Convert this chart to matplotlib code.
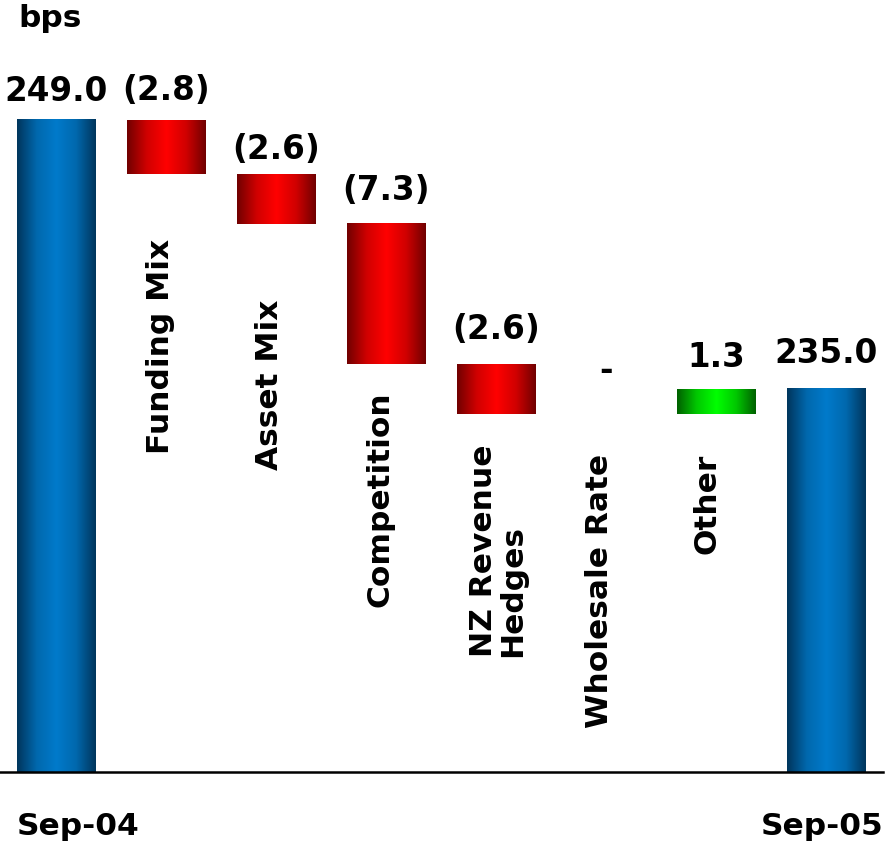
import numpy as np
import matplotlib
matplotlib.use("Agg")
import matplotlib.pyplot as plt
from matplotlib.colors import LinearSegmentedColormap

# ---- data ----
start_label = "Sep-04"
end_label = "Sep-05"
start_value = 249.0
end_value = 235.0
categories = ["Funding Mix", "Asset Mix", "Competition", "NZ Revenue\nHedges",
              "Wholesale Rate", "Other"]
deltas = [-2.8, -2.6, -7.3, -2.6, 0.0, 1.3]
value_labels = ["249.0", "(2.8)", "(2.6)", "(7.3)", "(2.6)", "-", "1.3", "235.0"]
unit_label = "bps"

# ---- layout / style ----
FONT = "DejaVu Sans"
FS = 22.5
FS_VAL = 23.5
YMIN, YMAX = 215.07, 255.29
label_gap_px = [20, 21, 16, 25, 26, 35, 23, 27]      # value label baseline above bar top
cat_label_top = [242.84, 239.71, 234.93, 232.17, 231.65, 231.70]  # top of rotated labels
cat_label_dx = [-0.05, -0.06, -0.05, 0.02, -0.06, -0.08]

fig = plt.figure(figsize=(8.86, 8.45), dpi=100)
ax = fig.add_axes([0, 72 / 845, 883 / 886, 773 / 845])

n = len(deltas)
x = np.arange(n + 2)
levels = start_value + np.cumsum([0] + deltas)
bottoms, heights, kinds = [], [], []
bottoms.append(YMIN); heights.append(start_value - YMIN); kinds.append("total")
for i, d in enumerate(deltas):
    prev = levels[i]
    cur = levels[i + 1]
    bottoms.append(min(prev, cur))
    heights.append(abs(d))
    kinds.append("down" if d < 0 else ("up" if d > 0 else "zero"))
bottoms.append(YMIN); heights.append(end_value - YMIN); kinds.append("total")

bars = ax.bar(x, heights, bottom=bottoms, width=0.71, color="none", edgecolor="none")

cmaps = {
    "total": LinearSegmentedColormap.from_list("b", ["#00355c", "#0068ad", "#007acb", "#0068ad", "#00355c"]),
    "down": LinearSegmentedColormap.from_list("r", ["#700000", "#d00000", "#ff0000", "#d00000", "#700000"]),
    "up": LinearSegmentedColormap.from_list("g", ["#006000", "#00c800", "#00ff00", "#00c800", "#006000"]),
}
grad = np.linspace(0, 1, 256).reshape(1, -1)
for p, k in zip(bars.patches, kinds):
    if k == "zero":
        continue
    x0, y0, w, h = p.get_x(), p.get_y(), p.get_width(), p.get_height()
    ax.imshow(grad, cmap=cmaps[k], extent=[x0, x0 + w, y0, y0 + h],
              aspect="auto", interpolation="bilinear", zorder=2)

ax.set_xlim(-0.51, 7.52)
ax.set_ylim(YMIN, YMAX)

# value labels
tops = [b + h for b, h in zip(bottoms, heights)]
for xi, t, lab, gap in zip(x, tops, value_labels, label_gap_px):
    ax.annotate(lab, (xi, t), xytext=(0, gap * 72 / 100), textcoords="offset points",
                ha="center", va="baseline", fontsize=FS_VAL, fontweight="bold",
                family=FONT, color="black")

# category labels (rotated)
for xi, cat, yt, dx in zip(x[1:-1], categories, cat_label_top, cat_label_dx):
    ax.text(xi + dx, yt, cat, rotation=90, ha="center", va="top", fontsize=FS,
            fontweight="bold", family=FONT, color="black", multialignment="left",
            linespacing=1.0)

# period labels
ax.annotate(start_label, xy=(-0.355, 0), xycoords=("data", "axes fraction"),
            xytext=(0, -62 * 72 / 100), textcoords="offset points",
            ha="left", va="baseline", fontsize=FS, fontweight="bold", family=FONT,
            annotation_clip=False)
ax.annotate(end_label, xy=(7.527, 0), xycoords=("data", "axes fraction"),
            xytext=(0, -62 * 72 / 100), textcoords="offset points",
            ha="right", va="baseline", fontsize=FS, fontweight="bold", family=FONT,
            annotation_clip=False)

fig.text(18 / 886, 1 - 27 / 845, unit_label, ha="left", va="baseline",
         fontsize=FS, fontweight="bold", family=FONT)

for s in ["top", "left", "right"]:
    ax.spines[s].set_visible(False)
ax.spines["bottom"].set_linewidth(1.8)
ax.spines["bottom"].set_zorder(3)
ax.set_xticks([])
ax.set_yticks([])
ax.patch.set_alpha(0)

fig.savefig("out.png", dpi=100)
